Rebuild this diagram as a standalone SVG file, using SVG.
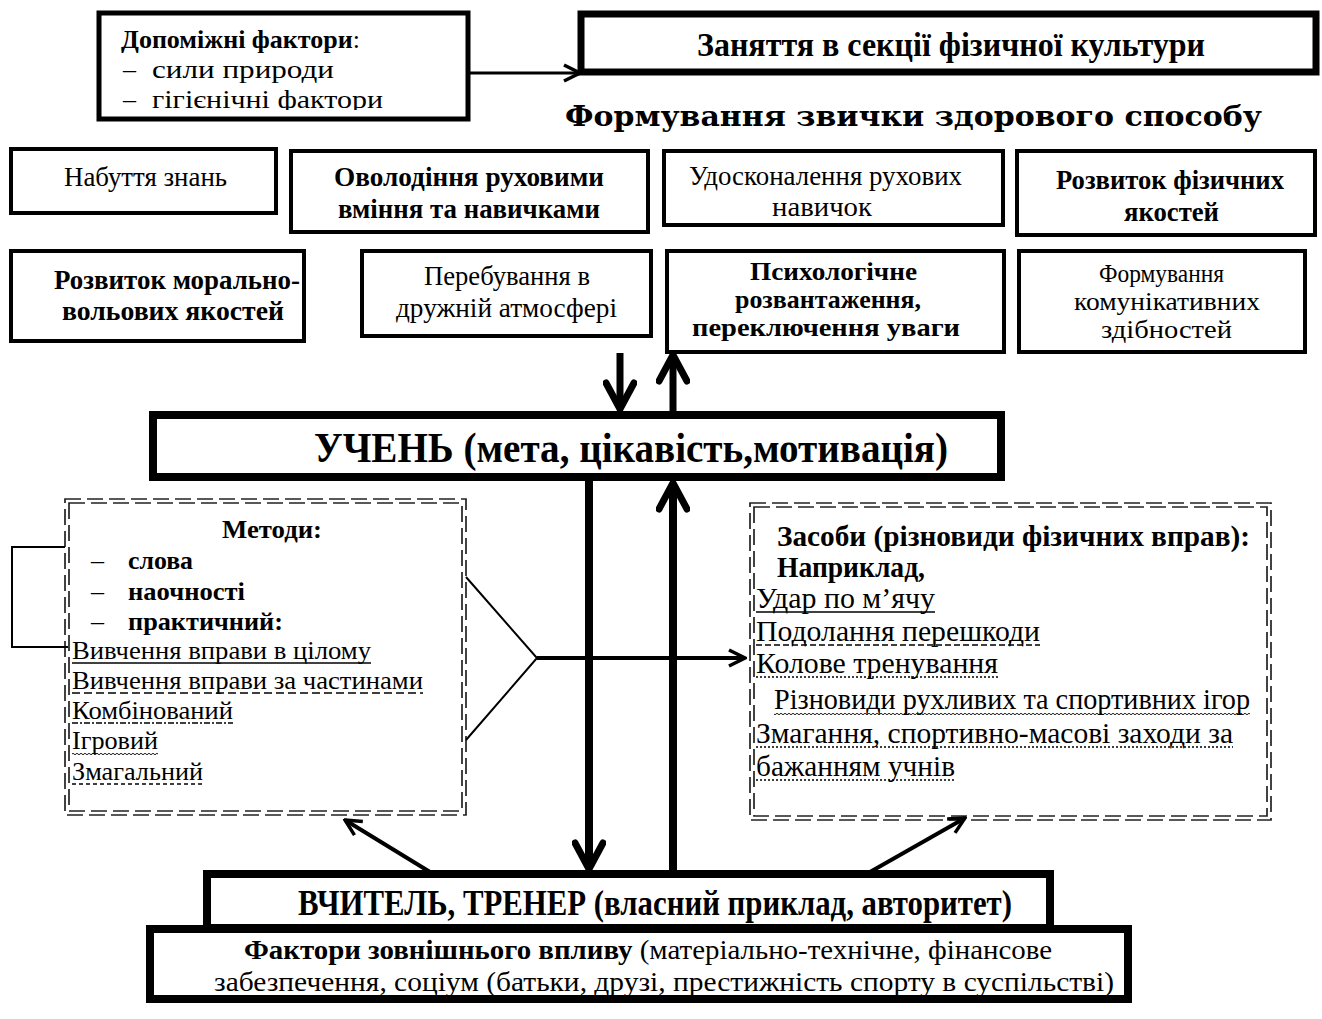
<svg xmlns="http://www.w3.org/2000/svg" width="1322" height="1019" viewBox="0 0 1322 1019">
<style>
  text { font-family: "Liberation Serif", "Times New Roman", serif; fill: #000; }
  .b { font-weight: bold; }
  .box { fill: #fff; stroke: #000; stroke-width: 4; }
  .thick { fill: #fff; stroke: #000; stroke-width: 8; }
  .dd { fill: none; stroke: #222; stroke-width: 1.7; stroke-dasharray: 16 6; }
  .t26 { font-size: 28px; }
  .t3 { font-size: 25px; }
  .t25 { font-size: 26px; }
  .tm { font-size: 29px; }
  .ln { stroke: #000; fill: none; }
  .ul { stroke: #000; stroke-width: 1.3; }
  .uld { stroke: #000; stroke-width: 1.3; stroke-dasharray: 8 4; }
  .uldot { stroke: #000; stroke-width: 1.3; stroke-dasharray: 2 2; }
  .uldd { stroke: #000; stroke-width: 1.3; stroke-dasharray: 6 2 2 2; }
</style>
<defs>
  <marker id="open" viewBox="0 0 20 20" refX="18" refY="10" markerWidth="20" markerHeight="20" markerUnits="userSpaceOnUse" orient="auto">
    <path d="M2,2 L18,10 L2,18" fill="none" stroke="#000" stroke-width="3.5"/>
  </marker>
  <marker id="openThick" viewBox="0 0 34 34" refX="30" refY="17" markerWidth="34" markerHeight="34" markerUnits="userSpaceOnUse" orient="auto">
    <path d="M4,3 L30,17 L4,31" fill="none" stroke="#000" stroke-width="7" stroke-linecap="round"/>
  </marker>
  <pattern id="wave" width="4" height="4" patternUnits="userSpaceOnUse">
    <path d="M0,2 Q1,0.5 2,2 T4,2" fill="none" stroke="#000" stroke-width="0.9"/>
  </pattern>
  <clipPath id="clipAux"><rect x="101" y="15" width="365" height="95"/></clipPath>
</defs>

<g id="aux-factors">
  <rect x="99" y="13" width="369" height="106" fill="#fff" stroke="#000" stroke-width="5"/>
  <g clip-path="url(#clipAux)">
    <text x="121" y="48" font-size="26"><tspan class="b">Допоміжні фактори</tspan>:</text>
    <text x="123" y="78" font-size="26">–</text>
    <text x="152" y="78" font-size="26" textLength="182" lengthAdjust="spacingAndGlyphs">сили природи</text>
    <text x="123" y="108" font-size="26">–</text>
    <text x="152" y="108" font-size="26" textLength="231" lengthAdjust="spacingAndGlyphs">гігієнічні фактори</text>
  </g>
</g>

<g id="section">
  <rect x="581" y="14" width="735" height="58" fill="#fff" stroke="#000" stroke-width="7"/>
  <text x="697" y="56" font-size="33" class="b" textLength="508" lengthAdjust="spacingAndGlyphs">Заняття в секції фізичної культури</text>
</g>

<g id="title">
  <text x="565" y="126" font-size="28" font-weight="bold" style="font-family:'DejaVu Serif',serif" textLength="697" lengthAdjust="spacingAndGlyphs">Формування звички здорового способу</text>
</g>

<g id="n-knowledge">
  <rect class="box" x="11" y="149" width="265" height="64"/>
  <text class="t26" x="64" y="186" textLength="163" lengthAdjust="spacingAndGlyphs">Набуття знань</text>
</g>
<g id="n-mastering">
  <rect class="box" x="291" y="151" width="357" height="81"/>
  <text class="t26 b" x="334" y="186" textLength="270" lengthAdjust="spacingAndGlyphs">Оволодіння руховими</text>
  <text class="t26 b" x="338" y="218" textLength="262" lengthAdjust="spacingAndGlyphs">вміння та навичками</text>
</g>
<g id="n-improving">
  <rect class="box" x="664" y="151" width="339" height="74"/>
  <text class="t26" x="689" y="185" textLength="273" lengthAdjust="spacingAndGlyphs">Удосконалення рухових</text>
  <text class="t26" x="772" y="216" textLength="100" lengthAdjust="spacingAndGlyphs">навичок</text>
</g>
<g id="n-physical">
  <rect class="box" x="1017" y="151" width="298" height="84"/>
  <text class="t26 b" x="1056" y="189" textLength="228" lengthAdjust="spacingAndGlyphs">Розвиток фізичних</text>
  <text class="t26 b" x="1124" y="221" textLength="95" lengthAdjust="spacingAndGlyphs">якостей</text>
</g>
<g id="n-moral">
  <rect class="box" x="11" y="251" width="293" height="90"/>
  <text class="t26 b" x="54" y="289" textLength="246" lengthAdjust="spacingAndGlyphs">Розвиток морально-</text>
  <text class="t26 b" x="62" y="320" textLength="222" lengthAdjust="spacingAndGlyphs">вольових якостей</text>
</g>
<g id="n-friendly">
  <rect class="box" x="362" y="251" width="289" height="85"/>
  <text class="t26" x="424" y="285" textLength="166" lengthAdjust="spacingAndGlyphs">Перебування в</text>
  <text class="t26" x="396" y="317" textLength="221" lengthAdjust="spacingAndGlyphs">дружній атмосфері</text>
</g>
<g id="n-psych">
  <rect class="box" x="667" y="251" width="337" height="101"/>
  <text class="t3 b" x="750" y="280" textLength="167" lengthAdjust="spacingAndGlyphs">Психологічне</text>
  <text class="t3 b" x="735" y="308" textLength="186" lengthAdjust="spacingAndGlyphs">розвантаження,</text>
  <text class="t3 b" x="692" y="336" textLength="268" lengthAdjust="spacingAndGlyphs">переключення уваги</text>
</g>
<g id="n-communic">
  <rect class="box" x="1019" y="251" width="286" height="101"/>
  <text class="t3" x="1099" y="282" textLength="125" lengthAdjust="spacingAndGlyphs">Формування</text>
  <text class="t3" x="1074" y="310" textLength="186" lengthAdjust="spacingAndGlyphs">комунікативних</text>
  <text class="t3" x="1101" y="338" textLength="131" lengthAdjust="spacingAndGlyphs">здібностей</text>
</g>

<g id="n-student">
  <rect class="thick" x="153" y="415" width="848" height="62"/>
  <text x="314" y="462" font-size="43" class="b" textLength="634" lengthAdjust="spacingAndGlyphs">УЧЕНЬ (мета, цікавість,мотивація)</text>
</g>

<g id="n-methods">
  <rect class="dd" x="65" y="499" width="401" height="316"/>
  <rect class="dd" x="69" y="503" width="393" height="308"/>
  <text class="t25 b" x="222" y="538" textLength="100" lengthAdjust="spacingAndGlyphs">Методи:</text>
  <text class="t25" x="91" y="569">–</text>
  <text class="t25 b" x="128" y="569" textLength="65" lengthAdjust="spacingAndGlyphs">слова</text>
  <text class="t25" x="91" y="600">–</text>
  <text class="t25 b" x="128" y="600" textLength="117" lengthAdjust="spacingAndGlyphs">наочності</text>
  <text class="t25" x="91" y="630">–</text>
  <text class="t25 b" x="128" y="630" textLength="155" lengthAdjust="spacingAndGlyphs">практичний:</text>
  <text class="t25" x="72" y="659" textLength="299" lengthAdjust="spacingAndGlyphs">Вивчення вправи в цілому</text>
  <line class="ul" x1="72" y1="663" x2="371" y2="663"/>
  <text class="t25" x="72" y="689" textLength="351" lengthAdjust="spacingAndGlyphs">Вивчення вправи за частинами</text>
  <line class="uld" x1="72" y1="693" x2="423" y2="693"/>
  <text class="t25" x="72" y="719" textLength="161" lengthAdjust="spacingAndGlyphs">Комбінований</text>
  <line class="uldd" x1="72" y1="723" x2="233" y2="723"/>
  <text class="t25" x="72" y="749" textLength="86" lengthAdjust="spacingAndGlyphs">Ігровий</text>
  <rect x="72" y="751" width="86" height="4" fill="url(#wave)"/>
  <text class="t25" x="72" y="780" textLength="131" lengthAdjust="spacingAndGlyphs">Змагальний</text>
  <line class="uld" style="stroke-dasharray:4 3" x1="72" y1="784" x2="203" y2="784"/>
</g>

<g id="n-means">
  <rect class="dd" x="750" y="503" width="521" height="317"/>
  <rect class="dd" x="754" y="507" width="513" height="309"/>
  <text class="tm b" x="777" y="546" textLength="473" lengthAdjust="spacingAndGlyphs">Засоби (різновиди фізичних вправ):</text>
  <text class="tm b" x="777" y="577" textLength="148" lengthAdjust="spacingAndGlyphs">Наприклад,</text>
  <text class="tm" x="756" y="608" textLength="179" lengthAdjust="spacingAndGlyphs">Удар по м’ячу</text>
  <line class="ul" x1="756" y1="612" x2="935" y2="612"/>
  <text class="tm" x="756" y="641" textLength="284" lengthAdjust="spacingAndGlyphs">Подолання перешкоди</text>
  <line class="uld" style="stroke-dasharray:6 3" x1="756" y1="645" x2="1040" y2="645"/>
  <text class="tm" x="756" y="673" textLength="242" lengthAdjust="spacingAndGlyphs">Колове тренування</text>
  <line class="uldot" x1="756" y1="677" x2="998" y2="677"/>
  <text class="tm" x="774" y="709" textLength="476" lengthAdjust="spacingAndGlyphs">Різновиди рухливих та спортивних ігор</text>
  <rect x="774" y="711" width="476" height="4" fill="url(#wave)"/>
  <text class="tm" x="756" y="743" textLength="477" lengthAdjust="spacingAndGlyphs">Змагання, спортивно-масові заходи за</text>
  <line class="uldot" x1="756" y1="747" x2="1233" y2="747"/>
  <text class="tm" x="756" y="776" textLength="199" lengthAdjust="spacingAndGlyphs">бажанням учнів</text>
  <line class="uldot" x1="756" y1="780" x2="955" y2="780"/>
</g>

<g id="connectors">
  <line class="ln" stroke-width="3" x1="470" y1="73" x2="580" y2="73" marker-end="url(#open)"/>
  <line class="ln" stroke-width="7" x1="620" y1="353" x2="620" y2="409" marker-end="url(#openThick)"/>
  <line class="ln" stroke-width="7" x1="673" y1="411" x2="673" y2="355" marker-end="url(#openThick)"/>
  <line class="ln" stroke-width="8" x1="589" y1="481" x2="589" y2="869" marker-end="url(#openThick)"/>
  <line class="ln" stroke-width="8" x1="673" y1="872" x2="673" y2="483" marker-end="url(#openThick)"/>
  <polyline class="ln" stroke-width="2" points="466,577 537,658 466,740"/>
  <line class="ln" stroke-width="4" x1="537" y1="658" x2="745" y2="658" marker-end="url(#open)"/>
  <polyline class="ln" stroke-width="2" points="65,547 12,547 12,647 68,647"/>
  <line class="ln" stroke-width="4" x1="430" y1="872" x2="345" y2="820" marker-end="url(#open)"/>
  <line class="ln" stroke-width="4" x1="870" y1="872" x2="965" y2="818" marker-end="url(#open)"/>
</g>

<g id="n-teacher">
  <rect class="thick" x="207" y="874" width="843" height="54"/>
  <text x="298" y="915" font-size="36" class="b" textLength="714" lengthAdjust="spacingAndGlyphs">ВЧИТЕЛЬ, ТРЕНЕР (власний приклад, авторитет)</text>
</g>

<g id="n-external">
  <rect class="thick" x="150" y="929" width="978" height="70"/>
  <text x="244" y="959" font-size="28" textLength="808" lengthAdjust="spacingAndGlyphs"><tspan class="b">Фактори зовнішнього впливу</tspan> (матеріально-технічне, фінансове</text>
  <text x="214" y="991" font-size="28" textLength="900" lengthAdjust="spacingAndGlyphs">забезпечення, соціум (батьки, друзі, престижність спорту в суспільстві)</text>
</g>
</svg>
